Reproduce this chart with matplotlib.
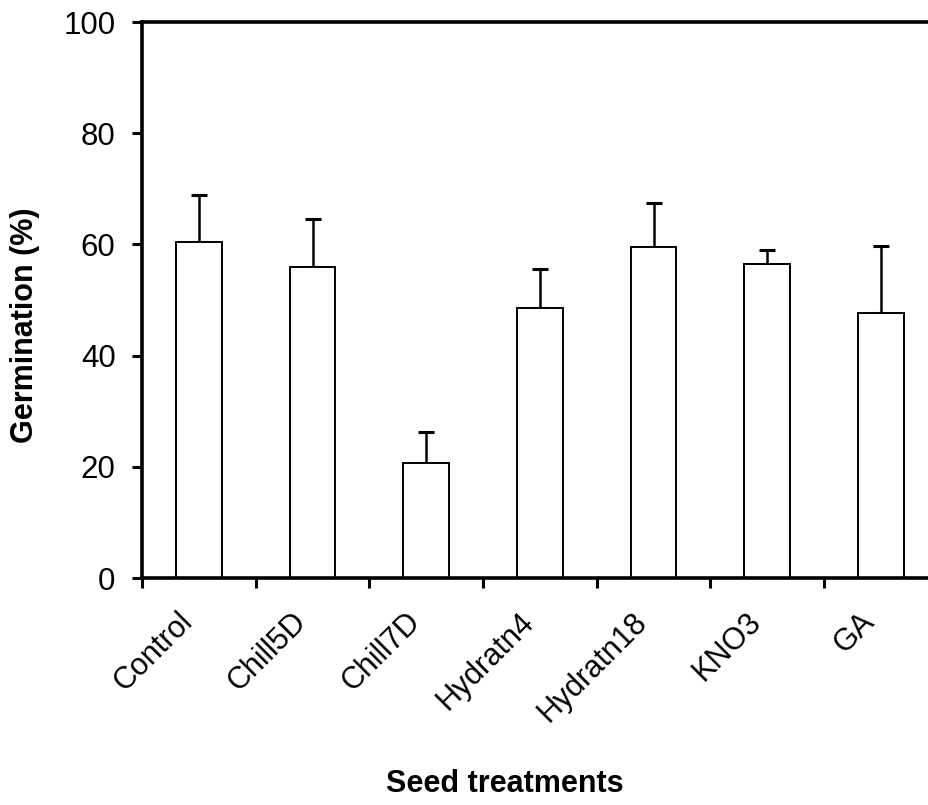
import matplotlib
matplotlib.use("Agg")
import matplotlib.pyplot as plt
import numpy as np

plt.rcParams['font.family'] = ['Liberation Sans', 'DejaVu Sans']

treatments = ['Control', 'Chill5D', 'Chill7D', 'Hydratn4', 'Hydratn18', 'KNO3', 'GA']
germination = [60.4, 55.9, 20.7, 48.6, 59.6, 56.5, 47.7]
error = [8.5, 8.6, 5.5, 7.0, 7.8, 2.5, 12.1]

fig = plt.figure(figsize=(9.29, 8.05), dpi=100)
ax = fig.add_axes([142 / 929, 1 - 578 / 805, 1 - 142 / 929 + 0.002, (578 - 22) / 805])

x = np.arange(len(treatments))
ax.bar(x, germination, width=0.4, color='white', edgecolor='black', linewidth=1.4, zorder=2)
ax.errorbar(x, germination, yerr=[np.zeros(len(error)), error], fmt='none',
            ecolor='black', elinewidth=1.8, capsize=5.5, capthick=2.2, zorder=1)

ax.set_ylim(0, 100)
ax.set_xlim(-0.5, 6.44)
ax.set_yticks([0, 20, 40, 60, 80, 100])

# ticks sit at the group boundaries, labels at the centres
ax.set_xticks(np.arange(-0.5, len(treatments) - 0.5, 1.0))
ax.set_xticklabels([])
ax.set_xticks(x, minor=True)
ax.set_xticklabels(treatments, minor=True, rotation=45, ha='right', va='bottom',
                   rotation_mode='anchor', fontsize=22)
ax.tick_params(axis='x', which='minor', length=0, pad=36)
ax.tick_params(axis='x', which='major', direction='out', length=7, width=2.2)
ax.tick_params(axis='y', direction='out', length=7, width=2.2, labelsize=22.5, pad=12)

for side in ['left', 'bottom', 'top']:
    ax.spines[side].set_linewidth(2.6)
ax.spines['right'].set_visible(False)

fig.text(25 / 929, 1 - 325 / 805, 'Germination (%)', rotation=90, ha='center', va='center',
         fontsize=22, fontweight='bold')
fig.text(505 / 929, 1 - 792 / 805, 'Seed treatments', ha='center', va='baseline',
         fontsize=22, fontweight='bold')

fig.savefig('out.png', dpi=100)
